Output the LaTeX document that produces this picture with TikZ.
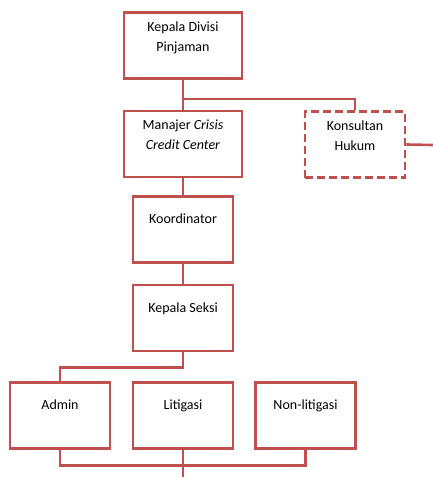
\documentclass[tikz,border=0pt]{standalone}
\usepackage{fontspec}
\setmainfont{Carlito}
\usetikzlibrary{positioning}
\definecolor{boxred}{RGB}{192,80,77}
\newcommand{\boxtext}[2]{\parbox[c][66pt][t]{96pt}{\centering\vspace*{#1}#2}}

\begin{document}
\begin{tikzpicture}[
    x=1pt, y=-1pt,
    box/.style={rectangle, draw=boxred, line width=2.6pt, minimum width=#1, minimum height=66pt, inner sep=0pt, font=\fontsize{14}{20}\selectfont},
    box/.default=100pt,
    dashbox/.style={box=#1, dash pattern=on 8pt off 4pt},
    dashbox/.default=100pt,
    link/.style={draw=boxred, line width=2.6pt}
]
\useasboundingbox (0,0) rectangle (433,477);

% Top levels
\node[box=118pt] (kdiv) at (183,45.5) {\boxtext{9pt}{Kepala Divisi\\Pinjaman}};
\node[box=118pt] (mgr) at (183,144) {\boxtext{9pt}{Manajer \textit{Crisis}\\\textit{Credit Center}}};
\node[dashbox] (kons) at (355,144.5) {\boxtext{9pt}{Konsultan\\Hukum}};

% Middle levels
\node[box] (koord) at (183,229.5) {\boxtext{17.5pt}{Koordinator}};
\node[box] (kseksi) at (183,318) {\boxtext{17.5pt}{Kepala Seksi}};

% Staff
\node[box] (admin) at (60,415.3) {\boxtext{17.5pt}{Admin}};
\node[box] (lit) at (183,415.3) {\boxtext{17.5pt}{Litigasi}};
\node[box] (nonlit) at (305.5,415.3) {\boxtext{17.5pt}{Non-litigasi}};

% Free ends
\coordinate (kright) at (433,145);
\coordinate (kbottom) at (183,477);

% Lines
\draw[link] (kdiv.south) -- (mgr.north);
\draw[link] (kdiv.south) ++(0,19) -| (kons.north);
\draw[link] (kons.east) -- (kright);
\draw[link] (mgr.south) -- (koord.north);
\draw[link] (koord.south) -- (kseksi.north);
\draw[link] (kseksi.south) -- ++(0,15) -| (admin.north);
\draw[link] (admin.south) -- ++(0,16) -| (nonlit.south);
\draw[link] (lit.south) -- (kbottom);

\end{tikzpicture}
\end{document}
